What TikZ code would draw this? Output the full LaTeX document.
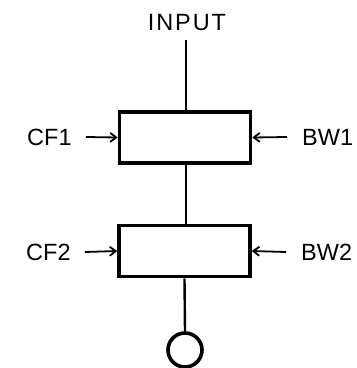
\documentclass[tikz,border=0pt]{standalone}
\usepackage{fontspec}
\setmainfont{Liberation Sans}
\usetikzlibrary{arrows.meta}
\tikzset{
  lbl/.style={font=\fontsize{23.5}{26}\selectfont, inner sep=0pt},
  blk/.style={draw, line width=3.6pt, minimum width=131pt, minimum height=51pt, inner sep=0pt},
  wire/.style={line width=2.4pt},
  arr/.style={line width=1.8pt, -{Straight Barb[length=6pt,width=9pt,line width=1.8pt]}},
}
\begin{document}
\begin{tikzpicture}[x=1pt,y=-1pt]
\useasboundingbox (0,0) rectangle (357,368);
\node[lbl] (input) at (187,23) {\addfontfeature{LetterSpace=8}INPUT};
\coordinate (top) at (186,40);
\node[blk] (b1) at (185,137.5) {};
\node[blk] (b2) at (184.5,251) {};
\node[draw, circle, line width=3.6pt, minimum size=34pt, inner sep=0pt] (out) at (185,350) {};
\node[lbl, anchor=west] (cf1) at (27,137) {CF1};
\node[lbl, anchor=west] (bw1) at (302,137) {BW1};
\node[lbl, anchor=west] (cf2) at (26,252) {CF2};
\node[lbl, anchor=west] (bw2) at (301,252) {BW2};
\draw[wire] (top) -- (b1.north -| top);
\draw[wire] (b1.south -| top) -- (b2.north -| top);
\draw[wire] (b2.south) -- (out.north);
\draw[arr] ([xshift=14pt]cf1.east) -- (b1.west);
\draw[arr] ([xshift=-15pt]bw1.west) -- (b1.east);
\draw[arr] ([xshift=14pt]cf2.east) -- (b2.west);
\draw[arr] ([xshift=-15pt]bw2.west) -- (b2.east);
\end{tikzpicture}
\end{document}
